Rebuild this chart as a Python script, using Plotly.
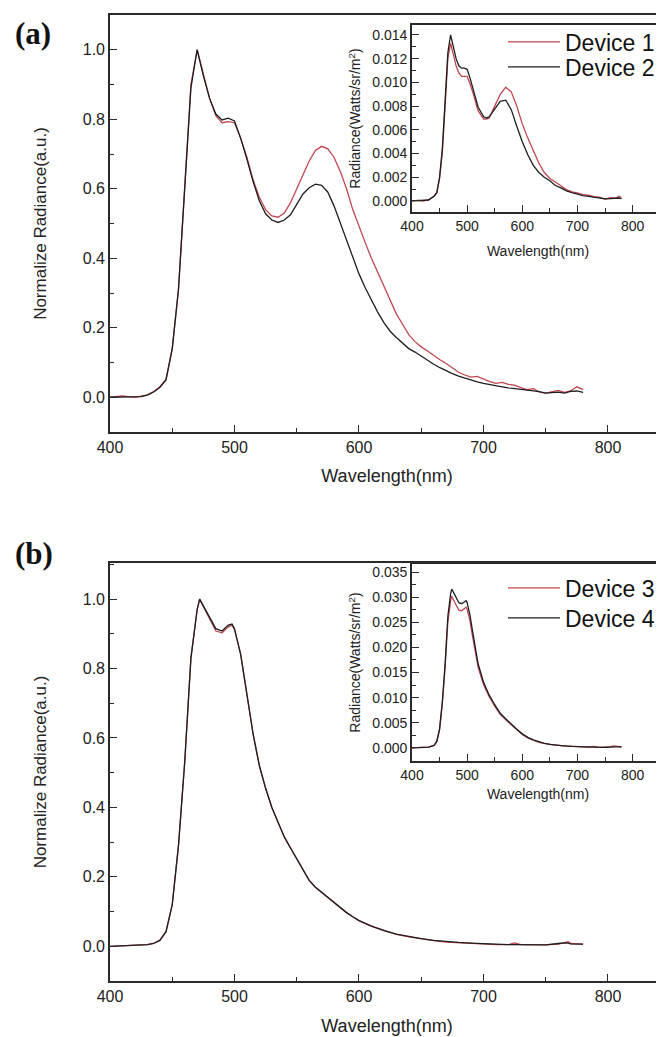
import plotly.graph_objects as go

# The page body adds an 8px margin, so the figure is 8px smaller than the window
# and every layout position below is given in window pixels (then shifted by 8).
WIN_W, WIN_H = 664, 1037
OFF = 8
W, H = WIN_W - OFF, WIN_H - OFF

# ---------------- DATA ----------------
# Panel (a) main: normalized radiance
wl_a = [400, 405, 410, 415, 420, 425, 430, 435, 440, 445, 450, 455, 460, 465, 470, 475, 480, 485, 490, 495,
        500, 505, 510, 515, 520, 525, 530, 535, 540, 545, 550, 555, 560, 565, 570, 575, 580, 585, 590, 595,
        600, 605, 610, 615, 620, 625, 630, 635, 640, 645, 650, 655, 660, 665, 670, 675, 680, 685, 690, 695,
        700, 705, 710, 715, 720, 725, 730, 735, 740, 745, 750, 755, 760, 765, 770, 775, 780]
dev1_norm = [0.0, 0.002, 0.004, 0.002, 0.0, 0.003, 0.007, 0.016, 0.03, 0.052, 0.14, 0.31, 0.60, 0.90, 1.0, 0.93, 0.86, 0.81, 0.79, 0.793,
             0.79, 0.745, 0.69, 0.625, 0.575, 0.54, 0.522, 0.518, 0.53, 0.56, 0.60, 0.64, 0.68, 0.71, 0.722, 0.715, 0.69, 0.65, 0.60, 0.54,
             0.49, 0.445, 0.40, 0.36, 0.315, 0.275, 0.24, 0.21, 0.18, 0.16, 0.145, 0.133, 0.12, 0.108, 0.097, 0.085, 0.072, 0.064, 0.058, 0.06,
             0.052, 0.045, 0.04, 0.043, 0.037, 0.035, 0.028, 0.022, 0.025, 0.015, 0.012, 0.016, 0.02, 0.014, 0.018, 0.03, 0.022]
dev2_norm = [0.0, 0.0, 0.002, 0.0, 0.0, 0.002, 0.006, 0.015, 0.028, 0.05, 0.14, 0.31, 0.60, 0.89, 1.0, 0.925, 0.86, 0.815, 0.798, 0.803,
             0.795, 0.745, 0.685, 0.62, 0.565, 0.528, 0.51, 0.503, 0.51, 0.525, 0.555, 0.585, 0.603, 0.613, 0.61, 0.59, 0.55, 0.50, 0.45, 0.40,
             0.355, 0.315, 0.28, 0.245, 0.215, 0.19, 0.172, 0.155, 0.14, 0.13, 0.118, 0.105, 0.095, 0.085, 0.076, 0.068, 0.061, 0.055, 0.049, 0.044,
             0.04, 0.036, 0.033, 0.03, 0.027, 0.025, 0.023, 0.021, 0.019, 0.016, 0.012, 0.013, 0.015, 0.012, 0.017, 0.018, 0.014]

# Panel (a) inset: absolute radiance (Watts/sr/m^2)
wl_ai = [400, 410, 420, 430, 440, 445, 450, 455, 460, 465, 470, 475, 480, 485, 490, 495, 500, 505, 510, 520,
         530, 535, 540, 550, 560, 570, 580, 590, 600, 610, 620, 630, 640, 650, 660, 670, 680, 690, 700, 710,
         720, 730, 740, 750, 760, 770, 775, 780]
dev1_abs = [0.0, 0.00005, 0.0, 0.0001, 0.0004, 0.0007, 0.0019, 0.0041, 0.0080, 0.0120, 0.0133, 0.0124, 0.0114, 0.0108, 0.0105, 0.0105, 0.0105, 0.0099, 0.0092, 0.0076,
            0.0069, 0.0069, 0.0070, 0.0080, 0.0090, 0.0096, 0.0092, 0.0080, 0.0065, 0.0053, 0.0042, 0.0032, 0.0024, 0.0019, 0.0016, 0.0013, 0.00096, 0.00077, 0.00069, 0.00053,
            0.00049, 0.00037, 0.00033, 0.00016, 0.00027, 0.00024, 0.0004, 0.00029]
dev2_abs = [0.0, 0.00003, 0.0, 0.00008, 0.0004, 0.0007, 0.0020, 0.0044, 0.0084, 0.0125, 0.0140, 0.0130, 0.0120, 0.0114, 0.0112, 0.0112, 0.0111, 0.0104, 0.0096, 0.0079,
            0.0071, 0.0070, 0.0071, 0.0078, 0.0084, 0.0085, 0.0077, 0.0063, 0.0050, 0.0039, 0.0030, 0.0024, 0.0020, 0.0017, 0.0013, 0.0011, 0.00085, 0.0007, 0.00056, 0.00046,
            0.00038, 0.00032, 0.00027, 0.00017, 0.0002, 0.00024, 0.00025, 0.0002]

# Panel (b) main: normalized radiance
wl_b = [400, 410, 420, 430, 435, 440, 445, 450, 455, 460, 465, 470, 472, 475, 480, 485, 490, 495, 498, 500,
        505, 510, 515, 520, 525, 530, 535, 540, 545, 550, 555, 560, 565, 570, 575, 580, 585, 590, 595, 600,
        610, 620, 630, 640, 650, 660, 670, 680, 690, 700, 710, 720, 725, 730, 740, 750, 760, 765, 768, 770, 780]
dev3_norm = [0.0, 0.001, 0.002, 0.005, 0.008, 0.017, 0.042, 0.12, 0.29, 0.53, 0.83, 0.97, 1.0, 0.978, 0.94, 0.908, 0.903, 0.92, 0.925, 0.912,
             0.84, 0.73, 0.61, 0.52, 0.455, 0.40, 0.355, 0.315, 0.283, 0.252, 0.22, 0.19, 0.17, 0.155, 0.14, 0.126, 0.11, 0.097, 0.085, 0.074,
             0.058, 0.045, 0.034, 0.027, 0.021, 0.016, 0.012, 0.010, 0.008, 0.006, 0.005, 0.005, 0.010, 0.005, 0.004, 0.004, 0.006, 0.010, 0.013, 0.008, 0.006]
dev4_norm = [0.0, 0.001, 0.002, 0.005, 0.008, 0.017, 0.042, 0.12, 0.29, 0.53, 0.83, 0.97, 1.0, 0.98, 0.945, 0.915, 0.908, 0.925, 0.928, 0.915,
             0.84, 0.73, 0.61, 0.52, 0.455, 0.40, 0.355, 0.315, 0.283, 0.252, 0.22, 0.19, 0.17, 0.155, 0.14, 0.126, 0.11, 0.097, 0.085, 0.074,
             0.058, 0.045, 0.035, 0.028, 0.022, 0.017, 0.013, 0.011, 0.009, 0.007, 0.006, 0.005, 0.005, 0.005, 0.004, 0.004, 0.008, 0.010, 0.009, 0.007, 0.006]

# Panel (b) inset: absolute radiance
wl_bi = [400, 410, 420, 430, 440, 445, 450, 455, 460, 465, 470, 472, 475, 480, 485, 490, 495, 498, 500, 505,
         510, 520, 530, 540, 550, 560, 570, 580, 590, 600, 610, 620, 630, 640, 650, 660, 670, 680, 690, 700,
         710, 720, 730, 740, 750, 760, 765, 770, 780]
dev3_abs = [0.0, 0.00003, 0.00006, 0.00015, 0.0005, 0.0013, 0.0036, 0.0088, 0.0160, 0.0250, 0.0293, 0.0302, 0.0295, 0.0285, 0.0274, 0.0273, 0.0278, 0.0280, 0.0276, 0.0254,
            0.0221, 0.0160, 0.0125, 0.0102, 0.0083, 0.0067, 0.0056, 0.0046, 0.0036, 0.0027, 0.0020, 0.0015, 0.0011, 0.0009, 0.0007, 0.00055, 0.00045, 0.00036, 0.0003, 0.00024,
            0.0002, 0.00019, 0.0003, 0.00013, 0.00013, 0.00028, 0.0004, 0.00035, 0.0002]
dev4_abs = [0.0, 0.00003, 0.00006, 0.00016, 0.0005, 0.0013, 0.0038, 0.0092, 0.0167, 0.0262, 0.0306, 0.0316, 0.0310, 0.0299, 0.0289, 0.0287, 0.0292, 0.0293, 0.0289, 0.0265,
            0.0231, 0.0167, 0.0130, 0.0105, 0.0086, 0.0069, 0.0058, 0.0047, 0.0037, 0.0028, 0.0021, 0.0016, 0.0012, 0.0009, 0.0007, 0.00055, 0.00045, 0.00036, 0.0003, 0.00024,
            0.0002, 0.00017, 0.00016, 0.00013, 0.00013, 0.00025, 0.0003, 0.00022, 0.0002]

# ---------------- STYLE ----------------
RED = "#bf4650"
BLK = "#1e1e1e"
AX = "#2a2a2a"
FONT = "Liberation Sans, Arial, sans-serif"
SERIF = "Liberation Serif, Times New Roman, serif"
LW = 1.3


def fx(p):  # window pixel -> paper fraction
    return (p - OFF) / W


def fy(p):
    return 1 - (p - OFF) / H


fig = go.Figure()


def add(x, y, name, color, xa, ya, legend, show):
    fig.add_trace(go.Scatter(x=x, y=y, name=name, mode="lines",
                             line=dict(color=color, width=LW),
                             xaxis=xa, yaxis=ya, legend=legend, showlegend=show))


add(wl_a, dev1_norm, "Device 1", RED, "x", "y", "legend", False)
add(wl_a, dev2_norm, "Device 2", BLK, "x", "y", "legend", False)
add(wl_ai, dev1_abs, "Device 1", RED, "x2", "y2", "legend", True)
add(wl_ai, dev2_abs, "Device 2", BLK, "x2", "y2", "legend2", True)
add(wl_b, dev3_norm, "Device 3", RED, "x3", "y3", "legend3", False)
add(wl_b, dev4_norm, "Device 4", BLK, "x3", "y3", "legend3", False)
add(wl_bi, dev3_abs, "Device 3", RED, "x4", "y4", "legend3", True)
add(wl_bi, dev4_abs, "Device 4", BLK, "x4", "y4", "legend4", True)


def xax(domain, rng, anchor, size, title, tsize, standoff):
    return dict(domain=domain, range=rng, anchor=anchor, showline=True, linecolor=AX, linewidth=1.6,
                mirror=True, ticks="inside", ticklen=7, tickwidth=1.4, tickcolor=AX,
                tick0=400, dtick=100, showgrid=False, zeroline=False, automargin=False,
                minor=dict(ticks="inside", ticklen=4, tickwidth=1.2, tickcolor=AX, dtick=50, tick0=400),
                tickfont=dict(family=FONT, size=size, color="#222"),
                title=dict(text=title, font=dict(family=FONT, size=tsize, color="#222"), standoff=standoff))


def yax(domain, rng, anchor, dtick, mdtick, fmt, size, title, tsize, standoff):
    return dict(domain=domain, range=rng, anchor=anchor, showline=True, linecolor=AX, linewidth=1.6,
                mirror=False, ticks="inside", ticklen=7, tickwidth=1.4, tickcolor=AX,
                tick0=0, dtick=dtick, tickformat=fmt, showgrid=False, zeroline=False, automargin=False,
                minor=dict(ticks="inside", ticklen=4, tickwidth=1.2, tickcolor=AX, dtick=mdtick, tick0=0),
                tickfont=dict(family=FONT, size=size, color="#222"),
                title=dict(text=title, font=dict(family=FONT, size=tsize, color="#222"), standoff=standoff))


def leg(ypix):
    return dict(x=fx(503), y=fy(ypix), xanchor="left", yanchor="middle", bgcolor="rgba(0,0,0,0)",
                font=dict(family=FONT, size=23, color="#111"), itemwidth=52, borderwidth=0)


main_xd = [fx(110), 1.0]
ins_xd = [fx(412), 1.0]

fig.update_layout(
    width=W, height=H, margin=dict(l=0, r=0, t=0, b=0, autoexpand=False),
    paper_bgcolor="white", plot_bgcolor="rgba(0,0,0,0)",
    xaxis=xax(main_xd, [400, 845], "y", 16, "Wavelength(nm)", 18, 14),
    yaxis=yax([fy(432), fy(15)], [-0.1, 1.1], "x", 0.2, 0.1, ".1f", 16, "Normalize Radiance(a.u.)", 17, 32),
    xaxis2=xax(ins_xd, [400, 857], "y2", 14, "Wavelength(nm)", 14, 14),
    yaxis2=yax([fy(212), fy(25)], [-0.00093, 0.01484], "x2", 0.002, 0.001, ".3f", 14,
               "Radiance(Watts/sr/m<sup>2</sup>)", 14, 8),
    xaxis3=xax(main_xd, [400, 845], "y3", 16, "Wavelength(nm)", 18, 15),
    yaxis3=yax([fy(981), fy(563)], [-0.1, 1.104], "x3", 0.2, 0.1, ".1f", 16, "Normalize Radiance(a.u.)", 17, 32),
    xaxis4=xax(ins_xd, [400, 857], "y4", 14, "Wavelength(nm)", 14, 8),
    yaxis4=yax([fy(761), fy(564)], [-0.0026, 0.0366], "x4", 0.005, 0.0025, ".3f", 14,
               "Radiance(Watts/sr/m<sup>2</sup>)", 14, 8),
    legend=leg(42),
    legend2=leg(67),
    legend3=leg(588),
    legend4=leg(618),
    annotations=[
        dict(text="<b>(a)</b>", x=fx(13), y=fy(33), xref="paper", yref="paper", showarrow=False,
             xanchor="left", yanchor="middle",
             font=dict(family=SERIF, size=31, color="#111")),
        dict(text="<b>(b)</b>", x=fx(13), y=fy(553), xref="paper", yref="paper", showarrow=False,
             xanchor="left", yanchor="middle",
             font=dict(family=SERIF, size=31, color="#111")),
    ],
)

fig.write_html("out.html")
